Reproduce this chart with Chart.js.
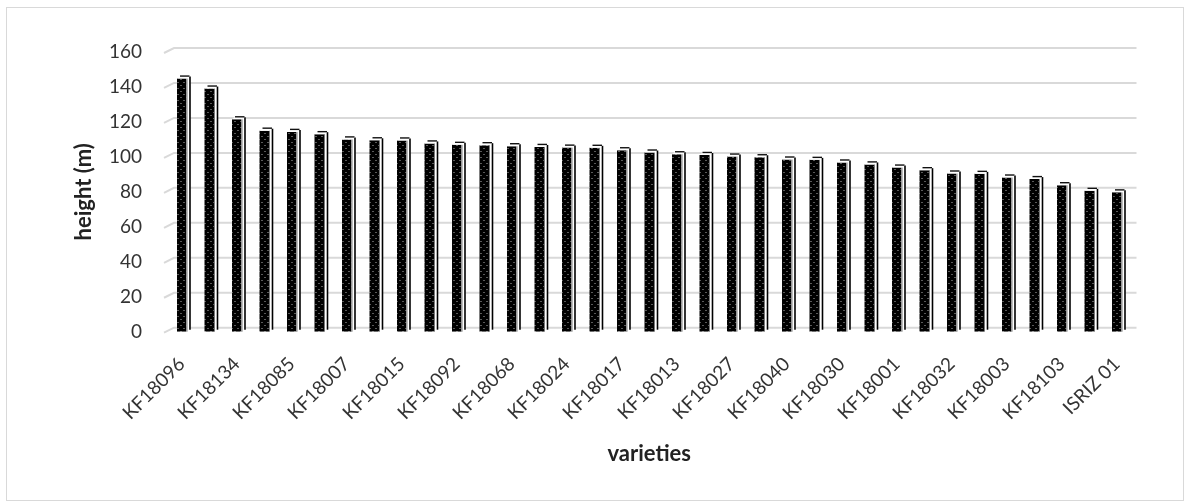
<!DOCTYPE html>
<html>
<head>
<meta charset="utf-8">
<script src="https://cdn.jsdelivr.net/npm/chart.js@4.4.1/dist/chart.umd.min.js"></script>
<style>
  html, body { margin: 0; padding: 0; background: #fff; }
  #wrap { position: relative; width: 1192px; height: 502px; overflow: hidden; }
  #frame { position: absolute; left: 6px; top: 7px; width: 1178px; height: 494px; border: 1px solid #d9d9d9; box-sizing: border-box; }
  #c { position: absolute; left: 0; top: 0; }
</style>
</head>
<body>
<div id="wrap">
  <div id="frame"></div>
  <canvas id="c" width="1192" height="502"></canvas>
</div>
<script>
// Varieties ranked by plant height; every other variety name is printed on the axis.
const categories = [
  'KF18096', '', 'KF18134', '', 'KF18085', '', 'KF18007', '', 'KF18015', '',
  'KF18092', '', 'KF18068', '', 'KF18024', '', 'KF18017', '', 'KF18013', '',
  'KF18027', '', 'KF18040', '', 'KF18030', '', 'KF18001', '', 'KF18032', '',
  'KF18003', '', 'KF18103', '', 'ISRIZ 01'
];

const heights = [
  144.8, 139.1, 121.5, 115.0, 114.3, 113.0, 110.0, 109.5, 109.4, 107.7,
  106.9, 106.7, 106.1, 105.7, 105.3, 105.2, 103.8, 102.5, 101.5, 101.1,
  100.2, 99.8, 98.5, 98.3, 96.8, 95.7, 93.9, 92.4, 90.5, 90.3,
  88.2, 87.3, 83.8, 80.6, 79.7
];

const yTicks = [0, 20, 40, 60, 80, 100, 120, 140, 160];

const canvas = document.getElementById('c');
const ctx = canvas.getContext('2d');

// Dark speckled fill for the front face of each column
function speckle() {
  const p = document.createElement('canvas');
  p.width = 6; p.height = 6;
  const g = p.getContext('2d');
  g.fillStyle = '#000';
  g.fillRect(0, 0, 6, 6);
  g.fillStyle = '#5a5a5a';
  g.fillRect(0, 1, 2, 1);
  g.fillRect(3, 4, 2, 1);
  return ctx.createPattern(p, 'repeat');
}

// Back-wall gridlines with a short slanted side-wall segment on the left
const wallGrid = {
  id: 'wallGrid',
  beforeDatasetsDraw(chart) {
    const { ctx, chartArea: a, scales: { y } } = chart;
    ctx.save();
    ctx.strokeStyle = '#d9d9d9';
    ctx.lineWidth = 2;
    y.ticks.forEach(t => {
      const yf = y.getPixelForValue(t.value);
      const yb = yf - 4;
      ctx.beginPath();
      ctx.moveTo(a.left - 4, yf + 1);
      ctx.lineTo(a.left + 6, yb);
      ctx.lineTo(a.right + 6, yb);
      ctx.stroke();
    });
    ctx.restore();
  }
};

// Side and top faces that give each column its depth
const columnDepth = {
  id: 'columnDepth',
  afterDatasetsDraw(chart) {
    const { ctx } = chart;
    const meta = chart.getDatasetMeta(0);
    const d = 4, dy = 3;
    ctx.save();
    meta.data.forEach(bar => {
      const { x, y, base, width } = bar.getProps(['x', 'y', 'base', 'width'], true);
      const l = x - width / 2, r = x + width / 2;
      // side face
      ctx.fillStyle = '#fff';
      ctx.beginPath();
      ctx.moveTo(r, y); ctx.lineTo(r + d, y - dy); ctx.lineTo(r + d, base - dy); ctx.lineTo(r, base);
      ctx.closePath(); ctx.fill();
      ctx.strokeStyle = '#000';
      ctx.lineWidth = 1.6;
      ctx.beginPath();
      ctx.moveTo(r + d - 0.5, y - dy + 1); ctx.lineTo(r + d - 0.5, base - dy + 1);
      ctx.stroke();
      ctx.lineWidth = 0.8;
      ctx.strokeStyle = '#555';
      ctx.beginPath();
      ctx.moveTo(r + 0.5, y); ctx.lineTo(r + 0.5, base);
      ctx.stroke();
      // top face
      ctx.fillStyle = '#fff';
      ctx.beginPath();
      ctx.moveTo(l, y); ctx.lineTo(l + d, y - dy); ctx.lineTo(r + d, y - dy); ctx.lineTo(r, y);
      ctx.closePath(); ctx.fill();
      ctx.strokeStyle = '#111';
      ctx.lineWidth = 1.4;
      ctx.beginPath();
      ctx.moveTo(l + d - 1, y - dy + 0.5); ctx.lineTo(r + d - 1, y - dy + 0.5);
      ctx.stroke();
    });
    ctx.restore();
  }
};

function build() {
  new Chart(ctx, {
    type: 'bar',
    data: {
      labels: categories,
      datasets: [{
        data: heights,
        backgroundColor: speckle(),
        borderWidth: 0,
        barPercentage: 0.345,
        categoryPercentage: 1
      }]
    },
    options: {
      responsive: false,
      animation: false,
      devicePixelRatio: 1,
      layout: { padding: { left: 56, right: 61.5, top: 52, bottom: 20.3 } },
      plugins: { legend: { display: false }, tooltip: { enabled: false } },
      scales: {
        x: {
          grid: { display: false, drawTicks: false },
          border: { display: false },
          ticks: {
            autoSkip: false, minRotation: 45, maxRotation: 45, padding: 21,
            color: '#333', font: { family: 'Lato', size: 19 }
          },
          title: {
            display: true, text: 'varieties', color: '#222',
            font: { family: 'Lato', size: 22, weight: 'bold' },
            padding: { top: 0, bottom: 15 }
          },
          afterFit(s) { s.height = 150; }
        },
        y: {
          min: yTicks[0], max: yTicks[yTicks.length - 1],
          grid: { display: false, drawTicks: false },
          border: { display: false },
          afterBuildTicks(s) { s.ticks = yTicks.map(v => ({ value: v })); },
          ticks: { padding: 26, color: '#333', font: { family: 'Lato', size: 19 } },
          title: {
            display: true, text: 'height (m)', color: '#222',
            font: { family: 'Lato', size: 22, weight: 'bold' },
            padding: { top: 15, bottom: 0 }
          },
          afterFit(s) { s.width = 112; }
        }
      }
    },
    plugins: [wallGrid, columnDepth]
  });
}

Promise.all([
  document.fonts.load('19px Lato'),
  document.fonts.load('bold 22px Lato')
]).then(build, build);
</script>
</body>
</html>
